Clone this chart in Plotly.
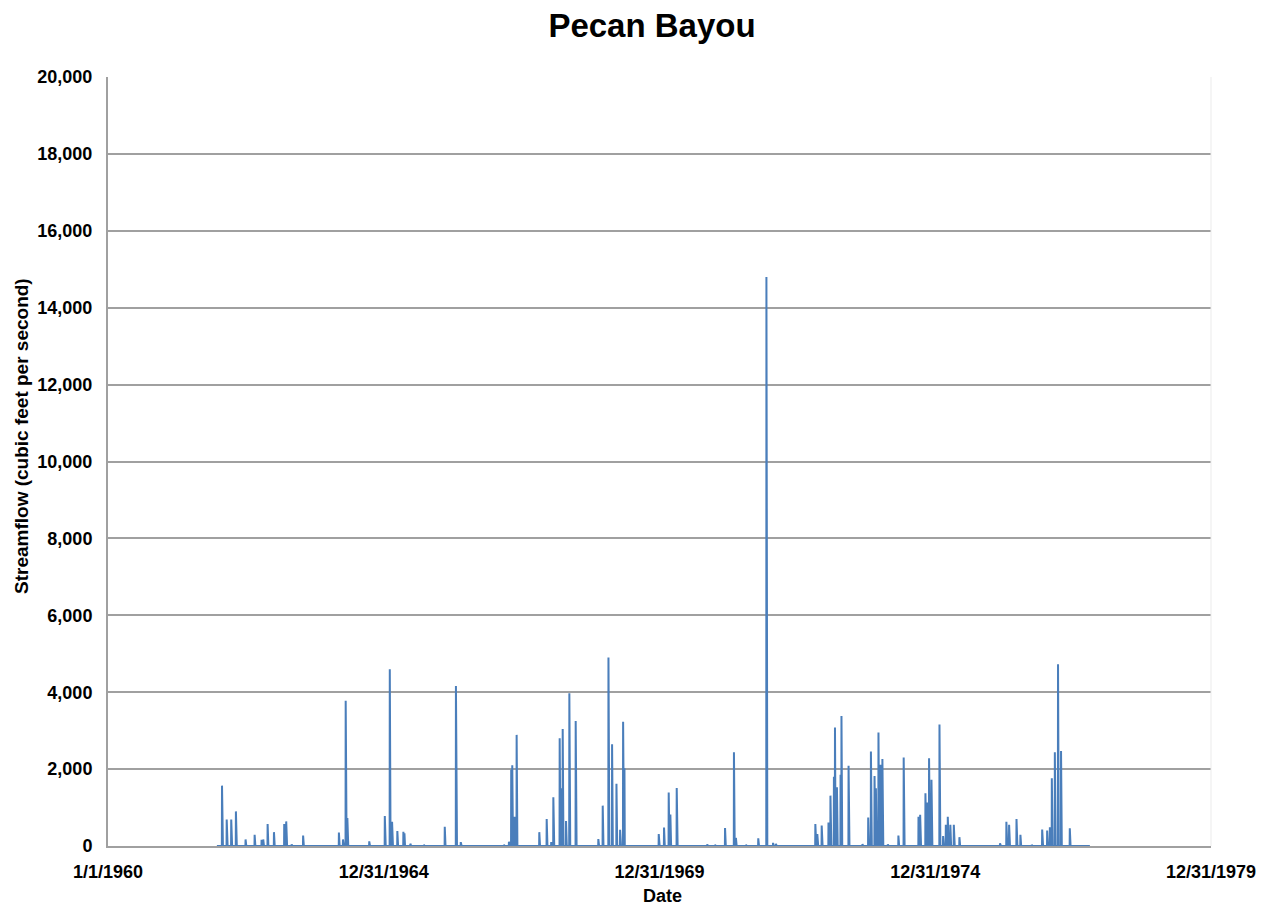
import pandas as pd
import plotly.graph_objects as go

# Daily streamflow record for Pecan Bayou (cfs); days not listed carry zero flow
record_start = "1961-12-22"
record_end = "1977-10-20"

peak_dates = [
    "1962-01-25", "1962-02-25", "1962-03-27", "1962-03-31", "1962-04-27",
    "1962-06-30", "1962-08-29", "1962-10-14", "1962-10-25", "1962-11-23",
    "1963-01-04", "1963-03-13", "1963-03-26", "1963-05-01", "1963-07-16",
    "1964-03-09", "1964-04-05", "1964-04-23", "1964-05-04", "1964-09-26",
    "1965-01-07", "1965-02-09", "1965-02-24", "1965-03-31", "1965-05-10",
    "1965-05-17", "1965-06-25", "1965-09-23",
    "1966-02-08", "1966-04-23", "1966-04-24", "1966-05-25",
    "1967-03-07", "1967-04-09", "1967-04-24", "1967-05-01", "1967-05-17",
    "1967-05-30", "1967-10-27", "1967-12-15",
    "1968-01-14", "1968-01-28", "1968-03-10", "1968-03-19", "1968-03-30",
    "1968-04-21", "1968-05-13", "1968-06-24", "1968-11-21", "1968-12-20",
    "1969-01-27", "1969-02-20", "1969-03-21", "1969-04-14", "1969-05-04",
    "1969-05-13", "1969-12-26",
    "1970-01-30", "1970-03-02", "1970-03-13", "1970-04-24", "1970-11-12",
    "1971-01-03", "1971-03-10", "1971-05-08", "1971-05-21", "1971-07-27",
    "1971-10-16", "1971-12-09", "1971-12-10", "1971-12-11",
    "1972-01-22", "1972-02-10", "1972-10-28", "1972-11-10", "1972-12-09",
    "1973-01-23", "1973-02-05", "1973-02-28", "1973-03-07", "1973-03-20",
    "1973-04-13", "1973-04-19", "1973-06-05", "1973-09-05", "1973-10-13",
    "1973-10-31", "1973-11-24", "1973-12-03", "1973-12-20",
    "1974-01-02", "1974-01-15", "1974-02-20", "1974-05-01", "1974-06-05",
    "1974-09-11", "1974-09-22", "1974-10-27", "1974-11-07", "1974-11-20",
    "1974-12-06",
    "1975-01-28", "1975-02-21", "1975-03-11", "1975-03-24", "1975-04-10",
    "1975-05-03", "1975-06-09",
    "1976-03-04", "1976-04-15", "1976-05-03", "1976-06-21", "1976-07-17",
    "1976-09-30", "1976-12-08",
    "1977-01-10", "1977-01-28", "1977-02-10", "1977-03-02", "1977-03-23",
    "1977-04-12", "1977-06-09",
]

peak_flows = [
    1570, 690, 690, 500, 900,
    170, 290, 160, 170, 570,
    360, 570, 640, 40, 270,
    350, 170, 3780, 730, 120,
    780, 4595, 630, 390, 370,
    330, 60, 30,
    500, 4160, 2370, 100,
    30, 110, 1980, 2100, 760,
    2890, 360, 700,
    100, 1270, 2800, 1500, 3040,
    650, 3970, 3250, 180, 1050,
    4900, 2645, 1620, 420, 3230,
    2020, 310,
    480, 1390, 820, 1510, 40,
    30, 470, 2440, 210, 30,
    200, 14800, 5600, 860,
    80, 60, 570, 310, 530,
    610, 1310, 1800, 3080, 1530,
    1850, 3380, 2090, 50, 740,
    2460, 1820, 1500, 2950,
    2110, 2260, 40, 270, 2300,
    760, 810, 1370, 1130, 2280,
    1720,
    3160, 260, 550, 760, 550,
    550, 230,
    70, 630, 550, 700, 290,
    30, 430,
    400, 490, 1760, 2440, 4730,
    2470, 460,
]

tick_dates = ["1960-01-01", "1964-12-31", "1969-12-31", "1974-12-31", "1979-12-31"]
tick_labels = ["1/1/1960", "12/31/1964", "12/31/1969", "12/31/1974", "12/31/1979"]
y_ticks = list(range(0, 20001, 2000))

flow = (
    pd.Series(peak_flows, index=pd.to_datetime(peak_dates), dtype=float)
    .reindex(pd.date_range(record_start, record_end, freq="D"), fill_value=0.0)
)

fig = go.Figure(
    go.Scatter(
        x=flow.index,
        y=flow.values,
        mode="lines",
        line=dict(color="#4A7EBB", width=2),
        hoverinfo="x+y",
        showlegend=False,
    )
)

font_family = "Liberation Sans, Arial, sans-serif"
grid_color = "#A0A0A0"

fig.update_layout(
    width=1263,
    height=907,
    margin=dict(l=108, r=52, t=77, b=61),
    paper_bgcolor="white",
    plot_bgcolor="white",
    font=dict(family=font_family, color="black"),
    title=dict(
        text="<b>Pecan Bayou</b>",
        x=652 / 1263,
        xref="container",
        xanchor="center",
        y=1 - 25 / 907,
        yref="container",
        yanchor="middle",
        font=dict(size=33, family=font_family, color="black"),
    ),
    xaxis=dict(
        type="date",
        range=["1960-01-01", "1979-12-31"],
        tickmode="array",
        tickvals=tick_dates,
        ticktext=[f"<b>{t}</b>" for t in tick_labels],
        tickfont=dict(size=18),
        showgrid=False,
        showline=True,
        linecolor=grid_color,
        linewidth=2,
        ticks="",
        ticklabelstandoff=8,
        zeroline=False,
        mirror=False,
        automargin=False,
    ),
    yaxis=dict(
        range=[0, 20000],
        tickmode="array",
        tickvals=y_ticks,
        ticktext=[f"<b>{v:,}</b>" for v in y_ticks],
        tickfont=dict(size=18),
        showgrid=True,
        gridcolor=grid_color,
        gridwidth=1.5,
        showline=True,
        linecolor=grid_color,
        linewidth=2,
        ticks="",
        ticklabelstandoff=10,
        zeroline=False,
        automargin=False,
    ),
    annotations=[
        dict(
            text="<b>Streamflow (cubic feet per second)</b>",
            xref="paper", yref="paper",
            x=(22 - 108) / 1103, y=(846 - 436) / 769,
            xanchor="center", yanchor="middle",
            textangle=-90, showarrow=False,
            font=dict(size=19, family=font_family, color="black"),
        ),
        dict(
            text="<b>Date</b>",
            xref="paper", yref="paper",
            x=(662 - 108) / 1103, y=(846 - 896) / 769,
            xanchor="center", yanchor="middle",
            showarrow=False,
            font=dict(size=18, family=font_family, color="black"),
        ),
    ],
    shapes=[
        dict(
            type="line", xref="paper", yref="paper",
            x0=1, x1=1, y0=0, y1=1,
            line=dict(color="#EBEBEB", width=1),
        )
    ],
)

fig.write_html("out.html")
